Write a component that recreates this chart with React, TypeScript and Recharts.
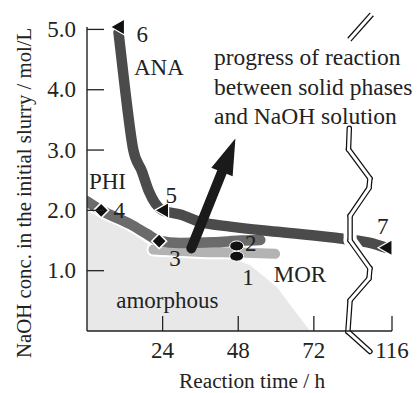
import React from 'react';
import {
  ComposedChart,
  Line,
  Area,
  XAxis,
  YAxis,
  Scatter,
  ReferenceLine,
  ReferenceDot,
} from 'recharts';

const FONT = "'Liberation Serif', 'Times New Roman', serif";
const INK = '#222';

// ---- axis break: hours after BREAK_H are compressed so 116 h sits at AXIS_END
const BREAK_H = 88;
const LAST_H = 116;
const AXIS_END = 96.8;
const toAxis = (h: number) =>
  h <= BREAK_H ? h : BREAK_H + ((h - BREAK_H) * (AXIS_END - BREAK_H)) / (LAST_H - BREAK_H);

// ---- tick values
const xTickHours = [24, 48, 72, 116];
const yTicks = [1, 2, 3, 4, 5];

// ---- amorphous region (upper boundary)
const amorphHours = [0, 8.4, 21.1, 29.6, 45.4, 51.8, 60.4, 64.5, 70.8];
const amorphConc = [2.02, 1.83, 1.38, 1.28, 1.22, 1.09, 0.72, 0.43, 0];

// ---- ANA band
const anaHours = [10.0, 12.1, 14.7, 17.4, 19.6, 24.0, 29.6, 35.9, 45.4, 61.3, 81.2, 94, 110];
const anaConc = [4.95, 4.0, 3.0, 2.65, 2.32, 2.0, 1.93, 1.81, 1.73, 1.64, 1.53, 1.46, 1.38];

// ---- PHI band
const phiHours = [0, 4.5, 13.8, 19.0, 22.7, 29.6, 40.2, 48.7, 55.0];
const phiConc = [2.15, 2.0, 1.77, 1.61, 1.5, 1.46, 1.47, 1.5, 1.51];

// ---- MOR band
const morHours = [21.1, 36, 48, 59.7];
const morConc = [1.35, 1.31, 1.3, 1.28];

// ---- experiment points
const triHours = [110, 24, 10]; // 7, 5, 6
const triConc = [1.38, 2.0, 5.04];
const diaHours = [22.9, 4.5]; // 3, 4
const diaConc = [1.49, 2.0];
const cirHours = [47.5, 47.5]; // 1, 2
const cirConc = [1.24, 1.41];

// ---- arrow (start, tip)
const arrowHours = [33.1, 47.1];
const arrowConc = [1.37, 3.19];

// ---- axis break decoration (in axis units)
const breakWaveX = [83.25, 83.0, 89.8, 89.5, 83.5, 83.5, 89.8, 89.5, 83.5, 82.8, 89.8];
const breakWaveY = [3.36, 3.01, 2.53, 2.37, 1.91, 1.5, 1.04, 0.87, 0.51, -0.01, -0.34];
const breakTopX = [83.25, 90.4];
const breakTopY = [4.83, 5.25];

// ---- text annotations (baseline anchored, axis units)
const labelTexts = ['6', 'ANA', '5', 'PHI', '4', '3', '2', '1', 'MOR', '7', 'amorphous'];
const labelX = [17.5, 22.8, 26.7, 6.5, 10.2, 27.9, 52.0, 51.1, 67.6, 93.9, 25.5];
const labelY = [4.79, 4.24, 2.12, 2.35, 1.875, 1.085, 1.33, 0.76, 0.81, 1.61, 0.38];
const progressLines = ['progress of reaction', 'between solid phases', 'and NaOH solution'];
const progressX = 40.3;
const progressY = 4.41;

const zip = (xs: number[], ys: number[]) => xs.map((h, i) => ({ x: toAxis(h), y: ys[i] }));

const amorphData = zip(amorphHours, amorphConc);
const anaData = zip(anaHours, anaConc);
const phiData = zip(phiHours, phiConc);
const morData = zip(morHours, morConc);
const triData = zip(triHours, triConc);
const diaData = zip(diaHours, diaConc);
const cirData = zip(cirHours, cirConc);

const waveSegs = breakWaveX.slice(1).map((x, i) => [
  { x: breakWaveX[i], y: breakWaveY[i] },
  { x, y: breakWaveY[i + 1] },
]);
const topSeg = [
  { x: breakTopX[0], y: breakTopY[0] },
  { x: breakTopX[1], y: breakTopY[1] },
];

const Triangle = (p: any) => {
  const { cx, cy } = p;
  return (
    <path
      d={`M${cx - 8},${cy} L${cx + 6},${cy - 8} L${cx + 6},${cy + 8} Z`}
      fill="#111"
      stroke="#fff"
      strokeWidth={1.2}
    />
  );
};
const Diamond = (p: any) => {
  const { cx, cy } = p;
  return (
    <path
      d={`M${cx},${cy - 7.5} L${cx + 7.5},${cy} L${cx},${cy + 7.5} L${cx - 7.5},${cy} Z`}
      fill="#111"
      stroke="#fff"
      strokeWidth={1.5}
    />
  );
};
const Ellipse = (p: any) => {
  const { cx, cy } = p;
  return <ellipse cx={cx} cy={cy} rx={7} ry={5} fill="#111" stroke="#fff" strokeWidth={1} />;
};

const ArrowShape = (p: any) => {
  const { x1, y1, x2, y2 } = p;
  const dx = x2 - x1;
  const dy = y2 - y1;
  const len = Math.hypot(dx, dy) || 1;
  const ux = dx / len;
  const uy = dy / len;
  const px = -uy;
  const py = ux;
  const headLen = 36;
  const half = 11.5;
  const bx = x2 - ux * headLen;
  const by = y2 - uy * headLen;
  return (
    <g>
      <line
        x1={x1}
        y1={y1}
        x2={bx + ux * 3}
        y2={by + uy * 3}
        stroke="#1a1a1a"
        strokeWidth={10}
        strokeLinecap="round"
      />
      <path
        d={`M${x2},${y2} L${bx + px * half},${by + py * half} L${bx - px * half},${by - py * half} Z`}
        fill="#1a1a1a"
      />
    </g>
  );
};

const XTick = (p: any) => {
  const { x, y, index } = p;
  return (
    <g>
      <line x1={x} y1={y} x2={x} y2={y - 15} stroke={INK} strokeWidth={1.3} />
      <text x={x} y={y + 27} textAnchor="middle" fontFamily={FONT} fontSize={23} fill={INK}>
        {String(xTickHours[index])}
      </text>
    </g>
  );
};
const YTick = (p: any) => {
  const { x, y, payload } = p;
  return (
    <g>
      <line x1={x} y1={y} x2={x + 17} y2={y} stroke={INK} strokeWidth={1.3} />
      <text x={x - 11} y={y + 7.5} textAnchor="end" fontFamily={FONT} fontSize={23} fill={INK}>
        {Number(payload.value).toFixed(1)}
      </text>
    </g>
  );
};

const textShape = (label: string, size: number, anchor: string, rotate = false) => (p: any) => {
  const { cx, cy } = p;
  return (
    <text
      x={cx}
      y={cy}
      textAnchor={anchor}
      fontFamily={FONT}
      fontSize={size}
      fill={INK}
      transform={rotate ? `rotate(-90 ${cx} ${cy})` : undefined}
    >
      {label}
    </text>
  );
};

const progressShape = (p: any) => {
  const { cx, cy } = p;
  return (
    <text x={cx} y={cy} fontFamily={FONT} fontSize={23.5} fill={INK}>
      {progressLines.map((t, i) => (
        <tspan key={i} x={cx} dy={i === 0 ? 0 : 29.5}>
          {t}
        </tspan>
      ))}
    </text>
  );
};

export default function App() {
  return (
    <div style={{ position: 'absolute', left: 0, top: 0, background: '#fff' }}>
      <ComposedChart width={417} height={393} margin={{ top: 27, right: 25, bottom: 0, left: 0 }}>
        <Area
          data={amorphData}
          dataKey="y"
          type="linear"
          fill="#e8e8e8"
          fillOpacity={1}
          stroke="none"
          isAnimationActive={false}
          dot={false}
          activeDot={false}
        />
        <XAxis
          type="number"
          dataKey="x"
          domain={[0, AXIS_END]}
          ticks={xTickHours.map(toAxis)}
          interval={0}
          height={62}
          tickSize={0}
          tickMargin={0}
          tickLine={false}
          tick={XTick}
          axisLine={{ stroke: INK, strokeWidth: 1.4 }}
          allowDataOverflow
        />
        <YAxis
          type="number"
          dataKey="y"
          domain={[0, 5]}
          ticks={yTicks}
          interval={0}
          width={87}
          tickSize={0}
          tickMargin={0}
          tickLine={false}
          tick={YTick}
          axisLine={{ stroke: INK, strokeWidth: 1.4 }}
        />
        <Line data={phiData} dataKey="y" type="monotone" stroke="#fff" strokeWidth={14} strokeLinecap="round" strokeLinejoin="round" dot={false} activeDot={false} isAnimationActive={false} />
        <Line data={morData} dataKey="y" type="monotone" stroke="#fff" strokeWidth={14} strokeLinecap="round" strokeLinejoin="round" dot={false} activeDot={false} isAnimationActive={false} />
        <Line data={morData} dataKey="y" type="monotone" stroke="#b3b3b3" strokeWidth={10} strokeLinecap="round" strokeLinejoin="round" dot={false} activeDot={false} isAnimationActive={false} />
        <Line data={phiData} dataKey="y" type="monotone" stroke="#6b6b6b" strokeWidth={10.5} strokeLinecap="round" strokeLinejoin="round" dot={false} activeDot={false} isAnimationActive={false} />
        <Line data={anaData} dataKey="y" type="monotone" stroke="#4b4b4b" strokeWidth={10.5} strokeLinecap="round" strokeLinejoin="round" dot={false} activeDot={false} isAnimationActive={false} />

        {waveSegs.map((s, i) => (
          <ReferenceLine key={'wb' + i} segment={s} stroke="#fff" strokeWidth={13} strokeLinecap="round" ifOverflow="visible" />
        ))}
        {waveSegs.map((s, i) => (
          <ReferenceLine key={'wk' + i} segment={s} stroke="#111" strokeWidth={5.5} strokeLinecap="round" strokeLinejoin="round" ifOverflow="visible" />
        ))}
        <ReferenceLine segment={topSeg} stroke="#111" strokeWidth={5.5} strokeLinecap="butt" ifOverflow="visible" />
        {waveSegs.map((s, i) => (
          <ReferenceLine key={'ww' + i} segment={s} stroke="#fff" strokeWidth={3} strokeLinecap="round" ifOverflow="visible" />
        ))}
        <ReferenceLine segment={topSeg} stroke="#fff" strokeWidth={3} strokeLinecap="round" ifOverflow="visible" />

        <ReferenceLine
          segment={[
            { x: toAxis(arrowHours[0]), y: arrowConc[0] },
            { x: toAxis(arrowHours[1]), y: arrowConc[1] },
          ]}
          ifOverflow="visible"
          shape={ArrowShape}
        />

        <Scatter data={triData} shape={Triangle} isAnimationActive={false} />
        <Scatter data={diaData} shape={Diamond} isAnimationActive={false} />
        <Scatter data={cirData} shape={Ellipse} isAnimationActive={false} />

        {labelTexts.map((t, i) => (
          <ReferenceDot
            key={'l' + i}
            x={labelX[i]}
            y={labelY[i]}
            r={0}
            ifOverflow="visible"
            shape={textShape(t, 23, 'middle')}
          />
        ))}
        <ReferenceDot x={progressX} y={progressY} r={0} ifOverflow="visible" shape={progressShape} />
        <ReferenceDot x={52.4} y={-0.94} r={0} ifOverflow="visible" shape={textShape('Reaction time / h', 21.3, 'middle')} />
        <ReferenceDot x={-17.9} y={2.29} r={0} ifOverflow="visible" shape={textShape('NaOH conc. in the initial slurry / mol/L', 20.8, 'middle', true)} />
      </ComposedChart>
    </div>
  );
}
